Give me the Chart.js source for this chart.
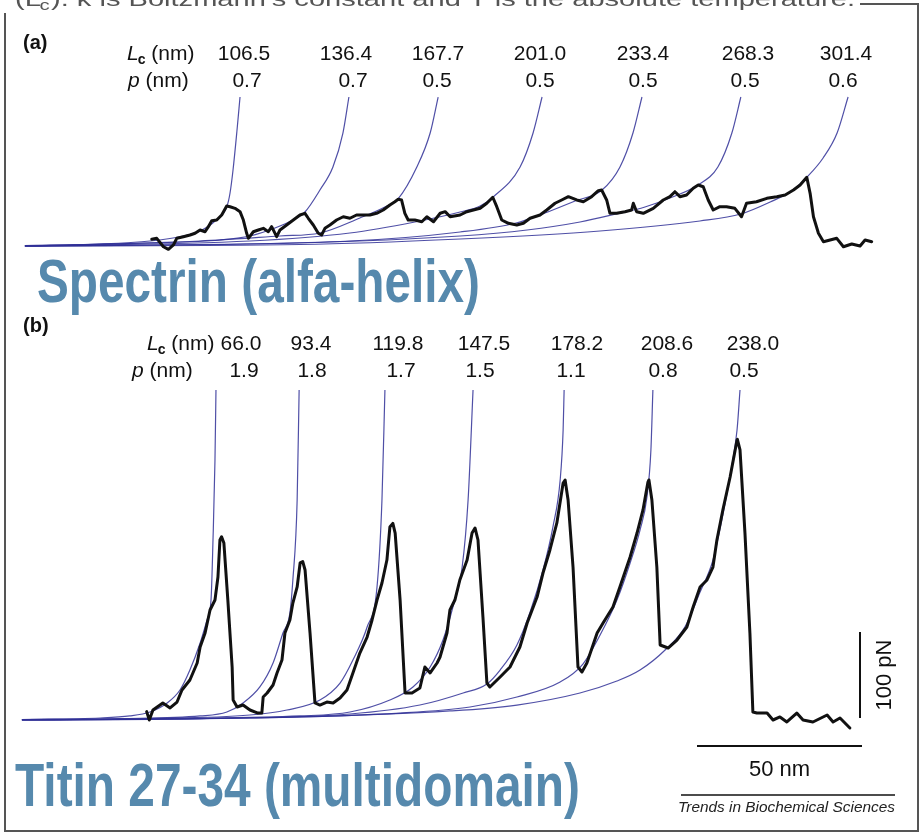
<!DOCTYPE html>
<html>
<head>
<meta charset="utf-8">
<title>Force-extension: spectrin and titin</title>
<script src="https://cdn.jsdelivr.net/npm/chart.js@4.4.1/dist/chart.umd.min.js"></script>
<style>
  html, body { margin: 0; padding: 0; background: #fff; }
  #wrap { width: 922px; height: 834px; }
</style>
</head>
<body>
<div id="wrap"><canvas id="afm" width="922" height="834"></canvas></div>
<script>
//////////////////////////////////////////////// Data ////////////////////////////////////////////////

// WLC fit parameters, contour length and persistence length (nm)
const lcSpectrin = [106.5, 136.4, 167.7, 201.0, 233.4, 268.3, 301.4];
const pSpectrin = [0.7, 0.7, 0.5, 0.5, 0.5, 0.5, 0.6];
const lcTitin = [66.0, 93.4, 119.8, 147.5, 178.2, 208.6, 238.0];
const pTitin = [1.9, 1.8, 1.7, 1.5, 1.1, 0.8, 0.5];

// spectrin trace: extension (nm) / force (pN)
const spectrinExt = [66.6, 68.1, 70.1, 71.6, 73.1, 74.1, 76.1, 78.1, 79.6, 81.1,
  82.6, 83.6, 84.6, 86.1, 87.6, 89.1, 90.1, 91.6, 93.1, 94.1,
  95.1, 95.6, 97.1, 98.6, 100.1, 101.6, 102.6, 104.1, 105.1, 107.1,
  109.1, 111.1, 112.6, 113.6, 115.1, 116.6, 117.6, 118.6, 120.1, 122.1,
  124.1, 126.1, 128.1, 130.1, 132.1, 134.1, 136.1, 138.1, 139.6, 140.6,
  141.6, 142.6, 143.6, 145.6, 147.7, 149.2, 151.2, 153.2, 154.7, 156.2,
  159.2, 161.2, 163.2, 165.2, 167.2, 169.0, 170.2, 171.7, 173.7, 176.2,
  178.2, 180.2, 183.2, 185.2, 187.7, 189.7, 191.7, 194.2, 196.2, 198.7,
  200.7, 201.7, 203.2, 204.2, 206.2, 208.7, 210.7, 211.2, 212.2, 214.2,
  217.2, 220.2, 222.2, 223.7, 225.2, 227.2, 229.2, 230.7, 232.2, 233.7,
  235.2, 237.2, 239.2, 241.7, 243.7, 245.2, 248.2, 251.3, 254.3, 256.8,
  259.3, 261.3, 263.3, 264.3, 265.3, 266.8, 268.3, 270.3, 272.3, 274.3,
  276.8, 279.3, 280.8, 282.8];
const spectrinForce = [11.2, 12.8, -1.2, -5.5, 1.7, 12.8, 15.5, 18.3, 21.2, 26.7,
  23.8, 32.2, 42.2, 43.3, 51.7, 66.7, 65.5, 62.8, 57.2, 43.3,
  21.2, 12.8, 23.8, 26.7, 29.5, 23.8, 32.2, 15.5, 26.7, 35.0,
  43.3, 51.7, 54.5, 46.2, 35.0, 21.2, 18.3, 29.5, 35.0, 43.3,
  48.8, 46.2, 51.7, 51.7, 51.7, 54.5, 60.0, 68.3, 73.8, 77.8,
  76.7, 54.5, 43.3, 43.3, 40.5, 48.8, 40.5, 54.5, 57.2, 48.8,
  51.7, 57.2, 60.0, 62.8, 71.2, 81.2, 65.5, 43.3, 37.8, 35.0,
  37.8, 46.2, 51.7, 60.0, 71.2, 76.7, 82.2, 76.7, 73.8, 82.2,
  92.2, 93.3, 76.7, 54.5, 54.5, 57.2, 60.0, 71.2, 57.2, 54.5,
  62.8, 76.7, 82.2, 90.5, 82.2, 85.0, 96.2, 101.7, 98.8, 76.7,
  60.0, 65.5, 65.5, 62.8, 48.8, 71.2, 73.8, 79.5, 82.2, 85.0,
  93.3, 101.7, 114.5, 87.8, 48.8, 21.2, 7.2, 10.0, 12.8, -1.2,
  3.3, 0.0, 10.0, 7.2];

// titin trace: extension (nm) / force (pN)
const titinExt = [39.9, 40.7, 41.8, 44.8, 47.0, 49.1, 50.6, 53.0, 55.2, 56.1,
  57.6, 59.1, 60.6, 61.5, 62.1, 62.6, 63.3, 64.5, 65.8, 66.1,
  67.3, 69.1, 71.2, 73.6, 74.8, 75.2, 76.4, 78.2, 79.4, 80.9,
  81.8, 83.3, 84.2, 85.5, 86.4, 87.2, 87.9, 89.4, 90.9, 92.4,
  94.5, 96.4, 98.5, 100.6, 102.4, 104.5, 106.7, 108.2, 109.7, 111.2,
  112.7, 113.6, 114.5, 115.2, 116.7, 118.2, 120.3, 122.7, 124.2, 125.8,
  127.9, 128.8, 130.9, 131.8, 133.3, 134.8, 137.0, 138.5, 139.4, 140.3,
  141.8, 143.0, 143.9, 147.0, 150.0, 153.0, 155.2, 158.2, 160.0, 162.1,
  164.2, 166.1, 166.7, 167.6, 169.1, 170.6, 171.8, 173.3, 176.4, 178.2,
  181.2, 183.3, 186.4, 188.5, 190.3, 191.8, 192.1, 193.0, 194.5, 195.5,
  197.9, 200.6, 203.6, 205.5, 207.6, 209.7, 211.5, 212.7, 214.5, 216.7,
  218.8, 218.9, 219.7, 221.2, 222.7, 223.6, 224.8, 227.9, 229.7, 231.8,
  233.9, 236.9, 238.8, 241.8, 246.1, 247.9, 250.0, 253.0];
const titinForce = [9.7, 0.0, 11.6, 19.8, 14.0, 20.9, 34.9, 46.5, 66.3, 84.9,
  101.2, 127.9, 139.5, 166.3, 209.3, 213.1, 205.8, 139.5, 61.6, 23.3,
  15.1, 17.4, 11.6, 8.1, 8.1, 26.7, 31.4, 40.7, 54.7, 69.8,
  101.2, 116.3, 136.0, 154.7, 182.6, 184.1, 174.4, 101.2, 19.8, 17.4,
  20.9, 19.8, 25.6, 34.9, 54.7, 77.9, 96.5, 116.3, 139.5, 159.3,
  186.0, 224.4, 228.7, 217.4, 139.5, 31.4, 31.4, 37.2, 61.6, 54.7,
  66.3, 73.3, 101.2, 127.9, 139.5, 162.8, 186.0, 217.4, 223.3, 209.3,
  119.8, 43.0, 38.4, 50.0, 61.6, 84.9, 112.8, 143.0, 170.9, 197.7,
  229.1, 275.6, 279.1, 255.8, 177.9, 61.6, 55.8, 66.3, 101.2, 112.8,
  131.4, 154.7, 189.5, 217.4, 244.2, 276.7, 279.1, 255.8, 177.9, 87.2,
  83.7, 93.0, 108.1, 131.4, 154.7, 162.8, 177.9, 209.3, 244.2, 282.6,
  325.6, 326.4, 314.0, 217.4, 101.2, 9.3, 8.1, 8.1, 0.0, 3.5,
  -2.3, 8.1, 0.0, -2.3, 5.8, -2.3, 2.3, -9.3];

// WLC fit curves, one [extension, force] pair of lists per fitted domain
const spectrinFitExt = [
  [28.5, 51.1, 66.1, 76.0, 81.1, 85.6, 89.2, 90.1, 91.0, 92.2, 93.1],
  [28.5, 66.1, 87.1, 96.1, 103.6, 109.0, 112.6, 117.1, 121.0, 124.0, 125.8],
  [28.5, 81.1, 105.1, 117.1, 129.1, 136.6, 140.5, 146.2, 150.2, 152.6],
  [28.5, 96.1, 126.1, 145.6, 159.2, 165.2, 169.1, 177.2, 181.1, 183.8],
  [28.5, 126.1, 159.2, 176.0, 184.7, 193.7, 201.8, 207.2, 211.1, 213.8],
  [28.5, 111.1, 159.2, 179.3, 195.2, 206.0, 214.7, 222.2, 230.6, 236.6, 240.8, 243.5],
  [28.5, 111.1, 159.2, 201.2, 231.2, 243.5, 252.3, 259.2, 263.4, 268.2, 272.4, 275.7]
];
const spectrinFitForce = [
  [0.8, 3.3, 8.3, 16.7, 25.0, 41.7, 66.7, 88.3, 126.7, 193.3, 248.3],
  [0, 5.0, 10.0, 16.7, 30.0, 43.3, 56.7, 93.3, 131.7, 188.3, 248.3],
  [0, 8.3, 16.7, 21.7, 46.7, 65.0, 78.3, 131.7, 188.3, 248.3],
  [0, 8.3, 21.7, 40.0, 56.7, 66.7, 81.7, 131.7, 188.3, 248.3],
  [0, 8.3, 23.3, 38.3, 55.0, 75.0, 93.3, 131.7, 188.3, 248.3],
  [0, 5.0, 16.7, 26.7, 40.0, 53.3, 65.0, 80.0, 101.7, 131.7, 188.3, 248.3],
  [0, 2.5, 11.7, 25.0, 41.7, 53.3, 73.3, 93.3, 115.0, 146.7, 188.3, 248.3]
];
const titinFitExt = [
  [2.1, 25.8, 34.8, 40.9, 46.1, 50.0, 53.0, 56.1, 58.2, 59.4, 60.0, 60.6, 60.9],
  [2.1, 31.8, 56.1, 64.2, 69.1, 74.2, 78.2, 81.2, 83.3, 84.2, 85.5, 86.1],
  [2.1, 40.9, 71.2, 82.4, 92.4, 98.5, 102.4, 106.7, 109.7, 111.2, 112.1],
  [2.1, 50.0, 86.4, 101.5, 113.6, 120.6, 125.8, 129.7, 132.7, 135.5, 137.3, 138.8],
  [2.1, 56.1, 101.5, 122.7, 135.8, 143.0, 147.0, 152.1, 156.1, 160.0, 163.0, 165.2, 166.1, 166.4],
  [2.1, 71.2, 116.7, 137.9, 152.1, 165.2, 172.1, 177.3, 182.4, 186.4, 189.4, 191.5, 192.7, 193.3],
  [2.1, 86.4, 131.8, 152.1, 171.2, 182.4, 189.4, 197.0, 203.0, 207.6, 211.5, 214.5, 217.0, 218.8, 219.7]
];
const titinFitForce = [
  [0.6, 2.3, 4.7, 9.3, 19.8, 34.9, 58.1, 89.5, 116.3, 139.5, 209.3, 302.3, 383.7],
  [0.6, 1.7, 4.7, 9.3, 19.8, 38.4, 66.3, 101.2, 124.4, 162.8, 255.8, 383.7],
  [0.3, 1.7, 5.8, 11.6, 23.3, 43.0, 69.8, 108.1, 154.7, 255.8, 383.7],
  [0.2, 1.7, 4.7, 9.3, 23.3, 38.4, 61.6, 93.0, 131.4, 177.9, 255.8, 383.7],
  [0, 1.7, 7.0, 17.4, 31.4, 41.9, 58.1, 87.2, 125.6, 174.4, 224.4, 279.1, 337.2, 383.7],
  [0, 2.3, 8.1, 15.1, 26.7, 44.2, 65.1, 98.8, 139.5, 182.6, 220.9, 259.3, 314.0, 383.7],
  [0, 3.5, 10.5, 17.4, 31.4, 45.3, 58.1, 81.4, 108.1, 148.8, 186.0, 238.4, 290.7, 337.2, 383.7]
];

const scaleBarForce = 100; // pN
const scaleBarExt = 50;    // nm

//////////////////////////////////////////////// Layout ////////////////////////////////////////////////

const W = 922, H = 834;
// pixel origin and px-per-unit for each panel
const panelA = { x0: -70, kx: 3.33, y0: 246, ky: 0.6 };
const panelB = { x0: 15, kx: 3.3, y0: 720, ky: 0.86 };

// header value columns (centre x)
const lcColsA = [244, 346, 438, 540, 643, 748, 846];
const pColsA = [247, 353, 437, 540, 643, 745, 843];
const lcColsB = [241, 311, 398, 484, 577, 667, 753];
const pColsB = [244, 312, 401, 480, 571, 663, 744];

const FONT = '"Liberation Sans", Arial, Helvetica, sans-serif';
const BLUE_TEXT = '#5689ad';
const FIT_COLOR = 'rgba(48, 48, 150, 0.85)';

//////////////////////////////////////////////// Datasets ////////////////////////////////////////////////

const toPoints = (xs, ys) => xs.map((x, i) => ({ x: x, y: ys[i] }));

function panelScale(p, axis) {
    if (axis === 'x') return { min: -p.x0 / p.kx, max: (W - p.x0) / p.kx };
    return { min: (p.y0 - H) / p.ky, max: p.y0 / p.ky };
}

function fitDatasets(exts, forces, xID, yID) {
    return exts.map((xs, i) => ({
        data: toPoints(xs, forces[i]),
        xAxisID: xID, yAxisID: yID,
        showLine: true, pointRadius: 0,
        cubicInterpolationMode: 'monotone',
        borderColor: FIT_COLOR, borderWidth: 1.2,
        order: 1
    }));
}

function traceDataset(xs, ys, xID, yID) {
    return {
        data: toPoints(xs, ys),
        xAxisID: xID, yAxisID: yID,
        showLine: true, pointRadius: 0,
        borderColor: '#111', borderWidth: 3,
        borderJoinStyle: 'round', borderCapStyle: 'round',
        order: 0
    };
}

//////////////////////////////////////////////// Text helpers ////////////////////////////////////////////////

function fitText(ctx, text, x, y, width, font) {
    ctx.font = font;
    const w = ctx.measureText(text).width;
    ctx.save();
    ctx.translate(x, y);
    ctx.scale(width / w, 1);
    ctx.textAlign = 'left';
    ctx.fillText(text, 0, 0);
    ctx.restore();
}

// caption line that runs off the top edge, with a subscript c
function drawCaption(ctx, x, y, width) {
    const head = '(L', sub = 'c', tail = '). k is Boltzmann\u2019s constant and T is the absolute temperature.';
    const big = '20px ' + FONT, small = '14px ' + FONT;
    ctx.font = big;
    const wHead = ctx.measureText(head).width, wTail = ctx.measureText(tail).width;
    ctx.font = small;
    const wSub = ctx.measureText(sub).width;
    ctx.save();
    ctx.translate(x, y);
    ctx.scale(width / (wHead + wSub + wTail), 1);
    ctx.textAlign = 'left';
    ctx.font = big;
    ctx.fillText(head, 0, 0);
    ctx.fillText(tail, wHead + wSub, 0);
    ctx.font = small;
    ctx.fillText(sub, wHead - 1, 4);
    ctx.restore();
}

function drawLcLabel(ctx, x, y) {
    ctx.textAlign = 'left';
    ctx.font = 'italic 21px ' + FONT;
    ctx.fillText('L', x, y);
    let w = ctx.measureText('L').width;
    ctx.font = 'bold 14px ' + FONT;
    ctx.fillText('c', x + w - 1, y + 4);
    w += ctx.measureText('c').width;
    ctx.font = '21px ' + FONT;
    ctx.fillText(' (nm)', x + w - 1, y);
}

function drawPLabel(ctx, x, y) {
    ctx.textAlign = 'left';
    ctx.font = 'italic 21px ' + FONT;
    ctx.fillText('p', x, y);
    const w = ctx.measureText('p').width;
    ctx.font = '21px ' + FONT;
    ctx.fillText(' (nm)', x + w, y);
}

function drawHeader(ctx, lcs, ps, lcCols, pCols, y1, y2) {
    ctx.font = '21px ' + FONT;
    ctx.textAlign = 'center';
    lcs.forEach((v, i) => ctx.fillText(v.toFixed(1), lcCols[i], y1));
    ps.forEach((v, i) => ctx.fillText(v.toFixed(1), pCols[i], y2));
}

//////////////////////////////////////////////// Chart ////////////////////////////////////////////////

const annotations = {
    id: 'annotations',
    beforeDraw: (chart) => {
        const ctx = chart.ctx;
        ctx.save();
        ctx.fillStyle = '#fff';
        ctx.fillRect(0, 0, chart.width, chart.height);
        ctx.restore();
    },
    afterDraw: (chart) => {
        const ctx = chart.ctx;
        ctx.save();
        ctx.textBaseline = 'alphabetic';

        ctx.fillStyle = '#555';
        drawCaption(ctx, 15, 6, 840);

        // frame
        ctx.strokeStyle = '#555';
        ctx.lineWidth = 2;
        ctx.beginPath();
        ctx.moveTo(5, 13); ctx.lineTo(5, 831); ctx.lineTo(918, 831); ctx.lineTo(918, 4); ctx.lineTo(860, 4);
        ctx.stroke();

        ctx.fillStyle = '#111';
        ctx.font = 'bold 20px ' + FONT;
        ctx.textAlign = 'left';
        ctx.fillText('(a)', 23, 49);
        ctx.fillText('(b)', 23, 332);

        drawLcLabel(ctx, 127, 60);
        drawPLabel(ctx, 128, 87);
        drawHeader(ctx, lcSpectrin, pSpectrin, lcColsA, pColsA, 60, 87);

        drawLcLabel(ctx, 147, 350);
        drawPLabel(ctx, 132, 377);
        drawHeader(ctx, lcTitin, pTitin, lcColsB, pColsB, 350, 377);

        // scale bars, sized from the titin axes
        const xs = chart.scales.x, ys = chart.scales.y;
        const barH = ys.getPixelForValue(0) - ys.getPixelForValue(scaleBarForce);
        const barW = xs.getPixelForValue(scaleBarExt) - xs.getPixelForValue(0);
        ctx.strokeStyle = '#111';
        ctx.lineWidth = 2;
        ctx.beginPath();
        ctx.moveTo(860, 718); ctx.lineTo(860, 718 - barH);
        ctx.moveTo(697, 746); ctx.lineTo(697 + barW, 746);
        ctx.stroke();
        ctx.lineWidth = 1.5;
        ctx.beginPath();
        ctx.moveTo(681, 795); ctx.lineTo(895, 795);
        ctx.stroke();

        ctx.font = '22px ' + FONT;
        ctx.textAlign = 'center';
        ctx.fillText(scaleBarExt + ' nm', 697 + barW / 2, 776);
        ctx.save();
        ctx.translate(891, 718 - barH / 2);
        ctx.rotate(-Math.PI / 2);
        ctx.fillText(scaleBarForce + ' pN', 0, 0);
        ctx.restore();

        ctx.fillStyle = '#222';
        fitText(ctx, 'Trends in Biochemical Sciences', 678, 812, 217, 'italic 15px ' + FONT);

        // protein names
        ctx.fillStyle = BLUE_TEXT;
        fitText(ctx, 'Spectrin (alfa-helix)', 37, 302, 443, 'bold 61px ' + FONT);
        fitText(ctx, 'Titin 27-34 (multidomain)', 15, 806, 565, 'bold 61px ' + FONT);
        ctx.restore();
    }
};

const ctx = document.getElementById('afm').getContext('2d');

new Chart(ctx, {
    type: 'scatter',
    data: {
        datasets: [
            traceDataset(spectrinExt, spectrinForce, 'xa', 'ya'),
            traceDataset(titinExt, titinForce, 'x', 'y'),
            ...fitDatasets(spectrinFitExt, spectrinFitForce, 'xa', 'ya'),
            ...fitDatasets(titinFitExt, titinFitForce, 'x', 'y')
        ]
    },
    options: {
        responsive: false,
        animation: false,
        events: [],
        layout: { padding: 0 },
        plugins: {
            legend: { display: false },
            tooltip: { enabled: false }
        },
        scales: {
            x: Object.assign({ type: 'linear', position: 'bottom', display: false }, panelScale(panelB, 'x')),
            y: Object.assign({ type: 'linear', position: 'left', display: false }, panelScale(panelB, 'y')),
            xa: Object.assign({ type: 'linear', axis: 'x', position: 'bottom', display: false }, panelScale(panelA, 'x')),
            ya: Object.assign({ type: 'linear', axis: 'y', position: 'left', display: false }, panelScale(panelA, 'y'))
        }
    },
    plugins: [annotations]
});
</script>
</body>
</html>
